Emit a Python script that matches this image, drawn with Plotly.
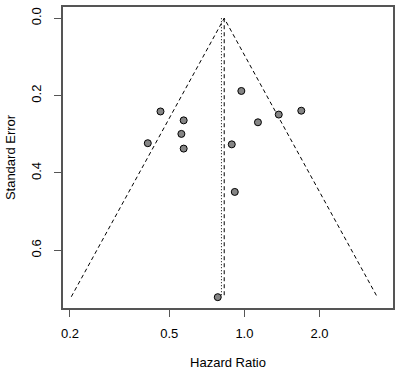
import numpy as np
import plotly.graph_objects as go

# Study data (hazard ratio, standard error)
hazard_ratio = [0.461, 0.571, 0.559, 0.571, 0.410, 0.972, 1.133, 1.373, 1.690, 0.890, 0.915, 0.782]
std_error = [0.241, 0.264, 0.299, 0.337, 0.323, 0.188, 0.269, 0.249, 0.239, 0.326, 0.449, 0.721]

pooled_estimate = 0.83      # dashed vertical line / funnel apex
alt_estimate = 0.809        # dotted vertical line
se_max = 0.72               # bottom of funnel
z = 1.96

x_ticks = [0.2, 0.5, 1.0, 2.0]
x_tick_labels = ["0.2", "0.5", "1.0", "2.0"]
y_ticks = [0.0, 0.2, 0.4, 0.6]
y_tick_labels = ["0.0", "0.2", "0.4", "0.6"]

fig = go.Figure()

left_end = float(np.exp(np.log(pooled_estimate) - z * se_max))
right_end = float(np.exp(np.log(pooled_estimate) + z * se_max))

# funnel
fig.add_trace(go.Scatter(
    x=[left_end, pooled_estimate, right_end], y=[se_max, 0.0, se_max],
    mode="lines", line=dict(color="black", width=1, dash="4px,3px"),
    hoverinfo="skip", showlegend=False))
# dotted line
fig.add_trace(go.Scatter(
    x=[alt_estimate, alt_estimate], y=[0.0, se_max],
    mode="lines", line=dict(color="black", width=1, dash="1px,2px"),
    hoverinfo="skip", showlegend=False))
# dashed line
fig.add_trace(go.Scatter(
    x=[pooled_estimate, pooled_estimate], y=[0.0, se_max],
    mode="lines", line=dict(color="black", width=1, dash="4px,3px"),
    hoverinfo="skip", showlegend=False))
# points
fig.add_trace(go.Scatter(
    x=hazard_ratio, y=std_error, mode="markers",
    marker=dict(size=7, color="#858585", line=dict(color="black", width=1)),
    showlegend=False))

font = "Liberation Sans, Arial, sans-serif"
fig.update_layout(
    width=400, height=373,
    margin=dict(l=63, r=5, t=5, b=64),
    plot_bgcolor="white", paper_bgcolor="white",
    font=dict(family=font, size=13, color="black"),
    xaxis=dict(
        type="log", range=[np.log10(0.1875), np.log10(3.94)],
        tickvals=x_ticks, ticktext=x_tick_labels,
        showgrid=False, zeroline=False,
        showline=True, mirror=True, linecolor="#555555", linewidth=1.5,
        ticks="outside", ticklen=7, tickcolor="#555555", tickwidth=1,
        ticklabelstandoff=6,
        title=dict(text="Hazard Ratio", standoff=18, font=dict(size=13)),
    ),
    yaxis=dict(
        range=[0.749, -0.029],
        tickvals=y_ticks, ticktext=y_tick_labels, tickangle=-90,
        showgrid=False, zeroline=False,
        showline=True, mirror=True, linecolor="#555555", linewidth=1.5,
        ticks="outside", ticklen=7, tickcolor="#555555", tickwidth=1,
        ticklabelstandoff=8,
        title=dict(text="Standard Error", standoff=10, font=dict(size=13)),
    ),
)

fig.write_html("out.html", config={"displayModeBar": False},
               post_script="document.body.style.margin='0';")
